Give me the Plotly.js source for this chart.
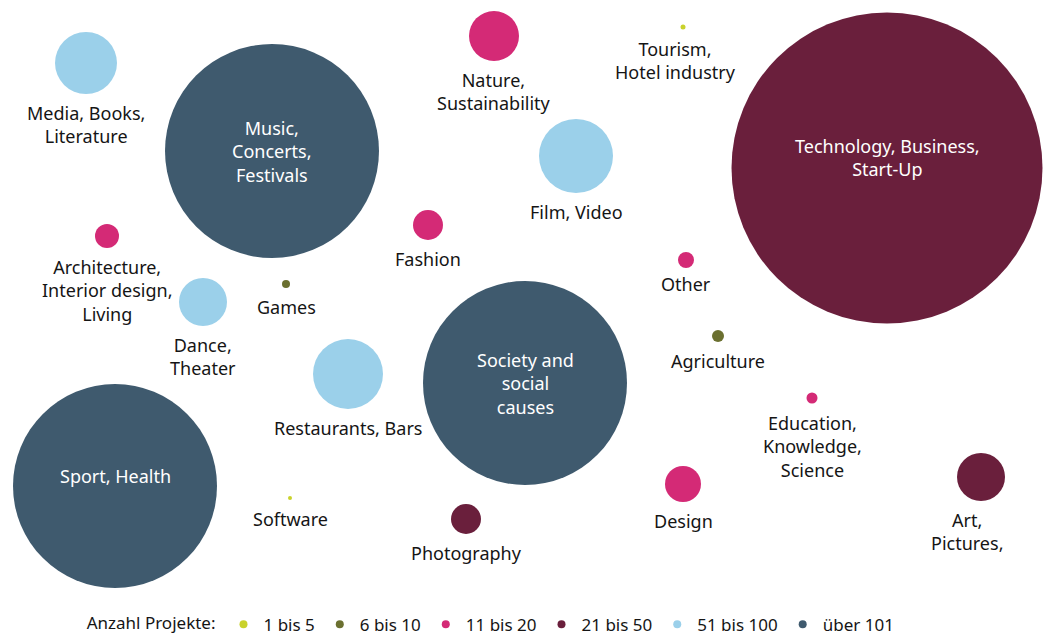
<!DOCTYPE html>
<html>
<head>
<meta charset="utf-8">
<script src="https://cdn.plot.ly/plotly-3.0.1.min.js"></script>
<style>
	body { margin: 0; background: #fff; }
	#chart { width: 1045px; height: 637px; }
</style>
</head>
<body>
<div id="chart"></div>
<script>
// Bubble data (x/y on a hidden 1045 x 637 grid, size = diameter)
var labels = [
	"Media, Books,<br>Literature", "Music,<br>Concerts,<br>Festivals", "Nature,<br>Sustainability",
	"Tourism,<br>Hotel industry", "Technology, Business,<br>Start-Up", "Film, Video", "Fashion",
	"Architecture,<br>Interior design,<br>Living", "Dance,<br>Theater", "Games", "Other",
	"Agriculture", "Restaurants, Bars", "Society and<br>social<br>causes",
	"Education,<br>Knowledge,<br>Science", "Sport, Health", "Software", "Photography",
	"Design", "Art,<br>Pictures,"
];
var xPos = [ 86, 272, 494, 683, 887, 576, 428, 107, 203, 286, 686, 718, 348, 525, 812, 115, 290, 466, 683, 981 ];
var yPos = [ 63, 151, 36, 27, 168, 156, 225, 236, 302, 284, 260, 336, 374, 383, 398, 486, 498, 519, 484, 477 ];
var bubbleSize = [ 62, 214, 50, 5, 311, 74, 30, 24, 48, 8, 16, 12, 70, 204, 11, 204, 4, 30, 36, 48 ];
var groupIdx = [ 4, 5, 2, 0, 3, 4, 2, 2, 4, 1, 2, 1, 4, 5, 2, 5, 0, 3, 2, 3 ];

var groupNames = [ "1 bis 5", "6 bis 10", "11 bis 20", "21 bis 50", "51 bis 100", "über 101" ];
var groupColors = [ "#c9d22c", "#6b7030", "#d42a76", "#6a1f3c", "#9bd0ea", "#3f5a6e" ];

var insideLimit = 150;	// bubbles bigger than this carry their label inside
var labelGap = 5;		// px between bubble edge and its label

// a few labels sit a little off their bubble in the original ( px shifts )
var labelNudge = {
	"Tourism,<br>Hotel industry": { x: -8, y: 0 },
	"Art,<br>Pictures,": { x: -14, y: 0 },
	"Technology, Business,<br>Start-Up": { x: 0, y: 11 },
	"Sport, Health": { x: 0, y: 10 },
	"Other": { x: 0, y: 3 }
};

var fontFamily = "'Noto Sans', 'Open Sans', sans-serif";
var textColor = "#151515";

var traces = [];

// one bubble trace per group
for( let g = 0; g < groupNames.length; g++ )
{
	let t = { x: [], y: [], size: [], text: [] };
	for( let i = 0; i < labels.length; i++ )
	{
		if( groupIdx[ i ] !== g ) continue;
		t.x.push( xPos[ i ] );
		t.y.push( yPos[ i ] );
		t.size.push( bubbleSize[ i ] );
		t.text.push( labels[ i ] );
	}
	traces.push( {
		type: "scatter",
		mode: "markers",
		x: t.x,
		y: t.y,
		text: t.text,
		marker: { size: t.size, sizemode: "diameter", color: groupColors[ g ], line: { width: 0 }, opacity: 1 },
		cliponaxis: false,
		showlegend: false,
		hoverinfo: "text"
	} );
}

// legend-only entries, small dots
for( let g = 0; g < groupNames.length; g++ )
{
	traces.push( {
		type: "scatter",
		mode: "markers",
		x: [ null ],
		y: [ null ],
		name: groupNames[ g ],
		marker: { size: 8, color: groupColors[ g ] },
		showlegend: true
	} );
}

// labels: inside the big bubbles, below the others
var annotations = [];
for( let i = 0; i < labels.length; i++ )
{
	let inside = bubbleSize[ i ] > insideLimit;
	let nudge = labelNudge[ labels[ i ] ] || { x: 0, y: 0 };
	annotations.push( {
		x: xPos[ i ],
		y: yPos[ i ],
		xref: "x",
		yref: "y",
		text: labels[ i ],
		showarrow: false,
		align: "center",
		xanchor: "center",
		yanchor: inside ? "middle" : "top",
		xshift: nudge.x,
		yshift: ( inside ? 0 : -( bubbleSize[ i ] / 2 + labelGap ) ) + nudge.y,
		font: { family: fontFamily, size: 18, color: inside ? "#ffffff" : textColor }
	} );
}

var layout = {
	width: 1045,
	height: 637,
	margin: { l: 0, r: 0, t: 0, b: 0, pad: 0, autoexpand: false },	// keep the legend from pushing the plot
	paper_bgcolor: "#ffffff",
	plot_bgcolor: "#ffffff",
	xaxis: { range: [ 0, 1045 ], visible: false, showgrid: false, zeroline: false, fixedrange: true },
	yaxis: { range: [ 637, 0 ], visible: false, showgrid: false, zeroline: false, fixedrange: true },
	annotations: annotations,
	showlegend: true,
	legend: {
		orientation: "h",
		x: 0.471,
		xanchor: "center",
		y: -0.009,
		yanchor: "bottom",
		itemsizing: "trace",
		font: { family: fontFamily, size: 17, color: textColor },
		title: { text: "Anzahl Projekte:", side: "left", font: { family: fontFamily, size: 17, color: textColor } },
		bgcolor: "rgba(0,0,0,0)"
	},
	font: { family: fontFamily }
};

Plotly.newPlot( "chart", traces, layout, { staticPlot: true, displayModeBar: false } );
</script>
</body>
</html>
